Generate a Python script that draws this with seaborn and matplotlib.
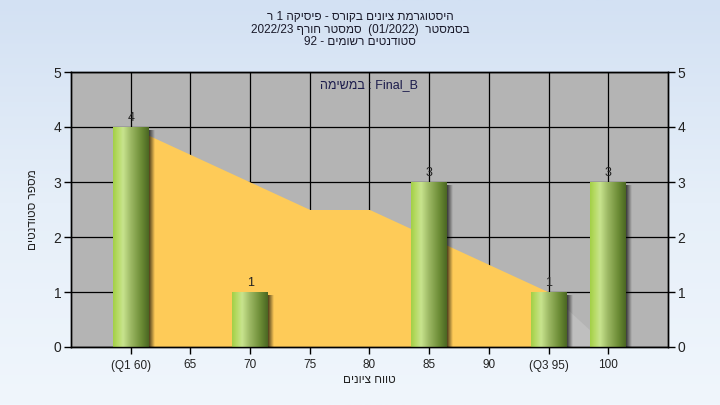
import numpy as np
import pandas as pd
import matplotlib
matplotlib.use("Agg")
import matplotlib.pyplot as plt
import seaborn as sns
from matplotlib.colors import LinearSegmentedColormap

# ---------------- data ----------------
grades = [60, 70, 85, 95, 100]
counts = [4, 1, 3, 1, 3]
tick_values = [60, 65, 70, 75, 80, 85, 90, 95, 100]
tick_labels = ["(Q1 60)", "65", "70", "75", "80", "85", "90", "(Q3 95)", "100"]
trend_x = [60, 70, 75, 80, 95]
trend_y = [4, 3, 2.5, 2.5, 1]
tail_x = [95, 100]
tail_y = [1, 0]
y_ticks = [0, 1, 2, 3, 4, 5]
# Hebrew strings stored in visual (left-to-right) order for matplotlib
title_lines = [
    "ר 1 הקיסיפ - סרוקב םינויצ תמרגוטסיה",
    "2022/23 ףרוח רטסמס  (01/2022)  רטסמסב",
    "92 - םימושר םיטנדוטס",
]
x_label = "םינויצ חווט"
y_label = "םיטנדוטס רפסמ"
note_text = "המישמב : Final_B"

# ---------------- style ----------------
sns.set_theme(style="white")
plt.rcParams["font.family"] = ["Liberation Sans", "DejaVu Sans"]

W, H = 720, 405
fig = plt.figure(figsize=(7.2, 4.05), dpi=100)

# background gradient
bg = fig.add_axes([0, 0, 1, 1], zorder=-10)
grad = np.linspace(0, 1, 256).reshape(-1, 1)
bg_cmap = LinearSegmentedColormap.from_list("bg", ["#d3e1f3", "#e6eff9", "#f0f6fc"])
bg.imshow(grad, aspect="auto", cmap=bg_cmap, extent=[0, 1, 0, 1], origin="upper")
bg.set_axis_off()

L, R, T, B = 71, 668, 72, 347
ax = fig.add_axes([L / W, 1 - B / H, (R - L) / W, (B - T) / H])
ax.set_facecolor("#b4b4b4")
ax.set_xlim(55, 105)
ax.set_ylim(0, 5)

# trend area
ax.fill_between(trend_x, trend_y, color="#fecb58", lw=0, zorder=1)
ax.fill_between(tail_x, tail_y, color="#bfbfbf", lw=0, zorder=1)

# bars
df = pd.DataFrame({"grade": grades, "count": counts})
sns.barplot(data=df, x="grade", y="count", native_scale=True, width=0.6,
            color="#9dc93e", saturation=1, ax=ax, zorder=3, linewidth=0)

bar_cmap = LinearSegmentedColormap.from_list(
    "bar", [(0.0, "#a2cf46"), (0.12, "#b5da62"), (0.28, "#c8e48e"),
            (0.5, "#9cb864"), (0.8, "#6a8a34"), (1.0, "#4a6622")])
hgrad = np.linspace(0, 1, 256).reshape(1, -1)
shadow = np.zeros((1, 64, 4))
shadow[0, :, 3] = np.linspace(0.7, 0.0, 64)

bars = list(ax.patches)
for p in bars:
    x0, y0 = p.get_x(), p.get_y()
    w, h = p.get_width(), p.get_height()
    # shadow on the right
    ax.imshow(shadow, extent=[x0 + w, x0 + w + 0.5, 0, h - 0.07],
              aspect="auto", zorder=2.5, interpolation="bilinear")
    im = ax.imshow(hgrad, extent=[x0, x0 + w, y0, y0 + h], aspect="auto",
                   cmap=bar_cmap, zorder=3.5, interpolation="bilinear")
    im.set_clip_path(p)

ax.bar_label(ax.containers[0], fmt="%d", padding=2, fontsize=9, color="#222222")

ax.set_xlim(55, 105)
ax.set_ylim(0, 5)

# grid
ax.set_axisbelow(True)
ax.grid(True, color="black", lw=0.9)
ax.set_xticks(tick_values)
ax.set_xticklabels(tick_labels, fontsize=8.5, color="#222222")
ax.set_yticks(y_ticks)
ax.set_yticklabels([str(v) for v in y_ticks], fontsize=10, color="#222222")
ax.tick_params(axis="both", direction="out", length=5, width=1, color="black",
               bottom=True, left=True)
ax.tick_params(axis="x", pad=4)
ax.tick_params(axis="y", pad=2)
for s in ax.spines.values():
    s.set_color("black")
    s.set_linewidth(1)
    s.set_visible(True)

ax.set_xlabel(x_label, fontsize=8.5, color="#222222")
ax.xaxis.set_label_coords(0.5, (B - 374) / (B - T))
ax.set_ylabel(y_label, fontsize=8.5, color="#222222")
ax.yaxis.set_label_coords((39 - L) / (R - L), 0.5)

# right axis
ax2 = ax.twinx()
ax2.set_ylim(0, 5)
ax2.set_yticks(y_ticks)
ax2.set_yticklabels([str(v) for v in y_ticks], fontsize=10, color="#222222")
ax2.tick_params(axis="y", direction="out", length=5, width=1, color="black",
                right=True, pad=2)
ax2.grid(False)
for s in ax2.spines.values():
    s.set_color("black")
    s.set_linewidth(1)

# note
ax.text(80, 4.76, note_text, ha="center", va="center", fontsize=9,
        color="#1c1c4c", zorder=6)

# title
for i, line in enumerate(title_lines):
    fig.text(0.5, 1 - (17 + 12.5 * i) / H, line, ha="center", va="center",
             fontsize=8.5, color="#1a1a2a")

fig.savefig("out.png", dpi=100)
